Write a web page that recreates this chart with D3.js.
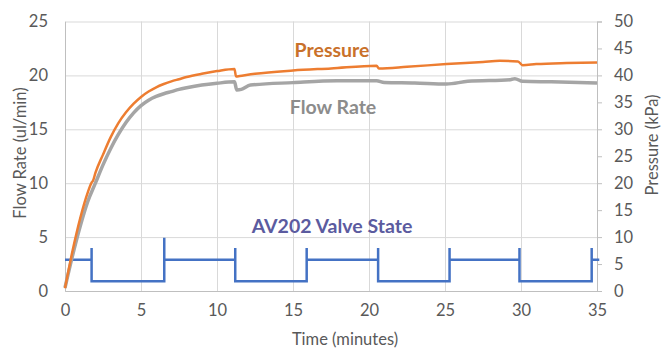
<!DOCTYPE html>
<html>
<head>
<meta charset="utf-8">
<script src="https://cdn.jsdelivr.net/npm/d3@7"></script>
<style>
  body { margin: 0; background: #fff; }
  svg { display: block; font-family: Lato, "Open Sans", sans-serif; }
</style>
</head>
<body>
<script>
'use strict';

// tick values
const timeTicks = [0, 5, 10, 15, 20, 25, 30, 35];
const flowTicks = [0, 5, 10, 15, 20, 25];
const pressureTicks = [0, 5, 10, 15, 20, 25, 30, 35, 40, 45, 50];

// pressure (kPa)
const pressureT = [0, 0.5, 1.0, 1.5, 1.75, 1.85, 2.0, 2.5, 3.0, 3.5, 4.0, 4.5, 5.0, 5.5, 6.0, 6.5, 7.0, 7.5, 8.0, 9.0, 10, 11.15, 11.25, 11.5, 12.5, 15, 17.5, 20.5, 20.65, 22.5, 25.1, 27.5, 28.6, 29.8, 30.1, 31, 33, 35];
const pressureV = [0.5, 7.5, 13.5, 18.3, 20.1, 20.5, 21.9, 25.3, 28.5, 31.1, 33.1, 34.7, 36.0, 37.0, 37.8, 38.4, 38.9, 39.3, 39.7, 40.3, 40.8, 41.2, 39.8, 39.9, 40.3, 40.9, 41.3, 41.8, 41.3, 41.6, 42.1, 42.5, 42.7, 42.6, 41.9, 42.1, 42.3, 42.4];

// flow rate (ul/min)
const flowT = [0, 0.5, 1.0, 1.5, 2.0, 2.5, 3.0, 3.5, 4.0, 4.5, 5.0, 5.5, 6.0, 6.5, 7.0, 7.5, 8.0, 9.0, 10, 11.15, 11.3, 11.6, 12.2, 15, 17.9, 20.5, 21, 23, 25.1, 26.5, 29.3, 29.6, 30.1, 32, 35];
const flowV = [0.3, 3.3, 6.0, 8.3, 10.0, 11.7, 13.2, 14.5, 15.6, 16.5, 17.2, 17.7, 18.05, 18.3, 18.5, 18.7, 18.85, 19.1, 19.27, 19.4, 18.65, 18.7, 19.1, 19.33, 19.5, 19.5, 19.35, 19.3, 19.2, 19.45, 19.6, 19.7, 19.45, 19.4, 19.3];

// AV202 valve state trace (plotted on the kPa axis)
const valveT = [0, 1.75, 1.75, 1.75, 6.53, 6.53, 6.53, 11.2, 11.2, 11.2, 15.9, 15.9, 15.9, 20.6, 20.6, 20.6, 25.3, 25.3, 25.3, 29.9, 29.9, 29.9, 34.65, 34.65, 34.65, 35.15];
const valveV = [5.8, 5.8, 8, 1.8, 1.8, 9.9, 5.8, 5.8, 8, 1.8, 1.8, 8, 5.8, 5.8, 8, 1.8, 1.8, 8, 5.8, 5.8, 8, 1.8, 1.8, 8, 5.8, 5.8];

const W = 663, H = 350;
const plotLeft = 65, plotRight = 597, plotTop = 21.5, plotBottom = 291;

const svg = d3.select('body').append('svg')
  .attr('width', W)
  .attr('height', H);

const x = d3.scaleLinear().domain([0, 35]).range([plotLeft, plotRight]);
const yFlow = d3.scaleLinear().domain([0, 25]).range([plotBottom, plotTop]);
const yP = d3.scaleLinear().domain([0, 50]).range([plotBottom, plotTop]);

const gridColor = '#d9d9d9';
const textColor = '#595959';

// gridlines
svg.append('g')
  .attr('transform', `translate(0,${plotBottom})`)
  .call(d3.axisBottom(x).tickValues(timeTicks).tickSize(-(plotBottom - plotTop)).tickFormat(''))
  .call(g => g.select('.domain').remove())
  .call(g => g.selectAll('line').attr('stroke', gridColor));

svg.append('g')
  .attr('transform', `translate(${plotLeft},0)`)
  .call(d3.axisLeft(yFlow).tickValues(flowTicks).tickSize(-(plotRight - plotLeft)).tickFormat(''))
  .call(g => g.select('.domain').remove())
  .call(g => g.selectAll('line').attr('stroke', gridColor));

// left axis labels
const leftAxis = svg.append('g')
  .attr('transform', `translate(${plotLeft},0)`)
  .call(d3.axisLeft(yFlow).tickValues(flowTicks).tickSize(0).tickPadding(17));
leftAxis.select('.domain').attr('stroke', '#bfbfbf');

// bottom axis labels
const bottomAxis = svg.append('g')
  .attr('transform', `translate(0,${plotBottom})`)
  .call(d3.axisBottom(x).tickValues(timeTicks).tickSize(0).tickPadding(13));
bottomAxis.select('.domain').attr('stroke', '#bfbfbf');

// right axis with outward ticks
const rightAxis = svg.append('g')
  .attr('transform', `translate(${plotRight},0)`)
  .call(d3.axisRight(yP).tickValues(pressureTicks).tickSize(5).tickPadding(12));
rightAxis.select('.domain').attr('stroke', '#bfbfbf');
rightAxis.selectAll('line').attr('stroke', '#bfbfbf');

svg.selectAll('.tick text')
  .attr('fill', textColor)
  .style('font-size', '16.5px')
  .style('font-family', 'Lato, sans-serif');

// valve state line
const valveLine = d3.line()
  .x((d, i) => x(valveT[i]))
  .y(d => yP(d));
svg.append('path')
  .datum(valveV)
  .attr('d', valveLine)
  .attr('fill', 'none')
  .attr('stroke', '#4472c4')
  .attr('stroke-width', 2.5);

// flow rate line
const flowLine = d3.line()
  .x((d, i) => x(flowT[i]))
  .y(d => yFlow(d))
  .curve(d3.curveMonotoneX);
svg.append('path')
  .datum(flowV)
  .attr('d', flowLine)
  .attr('fill', 'none')
  .attr('stroke', '#a5a5a5')
  .attr('stroke-width', 3.5)
  .attr('stroke-linejoin', 'round');

// pressure line
const pressureLine = d3.line()
  .x((d, i) => x(pressureT[i]))
  .y(d => yP(d))
  .curve(d3.curveMonotoneX);
svg.append('path')
  .datum(pressureV)
  .attr('d', pressureLine)
  .attr('fill', 'none')
  .attr('stroke', '#ed7d31')
  .attr('stroke-width', 2.5)
  .attr('stroke-linejoin', 'round');

// series labels
function label(text, cx, y, color) {
  svg.append('text')
    .attr('x', cx)
    .attr('y', y)
    .attr('text-anchor', 'middle')
    .attr('fill', color)
    .style('font-size', '19.5px')
    .style('font-weight', 'bold')
    .text(text);
}
label('Pressure', 332, 57, '#c9712a');
label('Flow Rate', 333, 114, '#8c8c8c');
label('AV202 Valve State', 332, 233, '#5b5b9f');

// axis titles
svg.append('text')
  .attr('x', 345)
  .attr('y', 345)
  .attr('text-anchor', 'middle')
  .attr('fill', textColor)
  .style('font-size', '16.5px')
  .text('Time (minutes)');

svg.append('text')
  .attr('transform', 'translate(26,153)rotate(-90)')
  .attr('text-anchor', 'middle')
  .attr('fill', textColor)
  .style('font-size', '16.5px')
  .text('Flow Rate (ul/min)');

svg.append('text')
  .attr('transform', 'translate(658,145)rotate(-90)')
  .attr('text-anchor', 'middle')
  .attr('fill', textColor)
  .style('font-size', '16.5px')
  .text('Pressure (kPa)');
</script>
</body>
</html>
